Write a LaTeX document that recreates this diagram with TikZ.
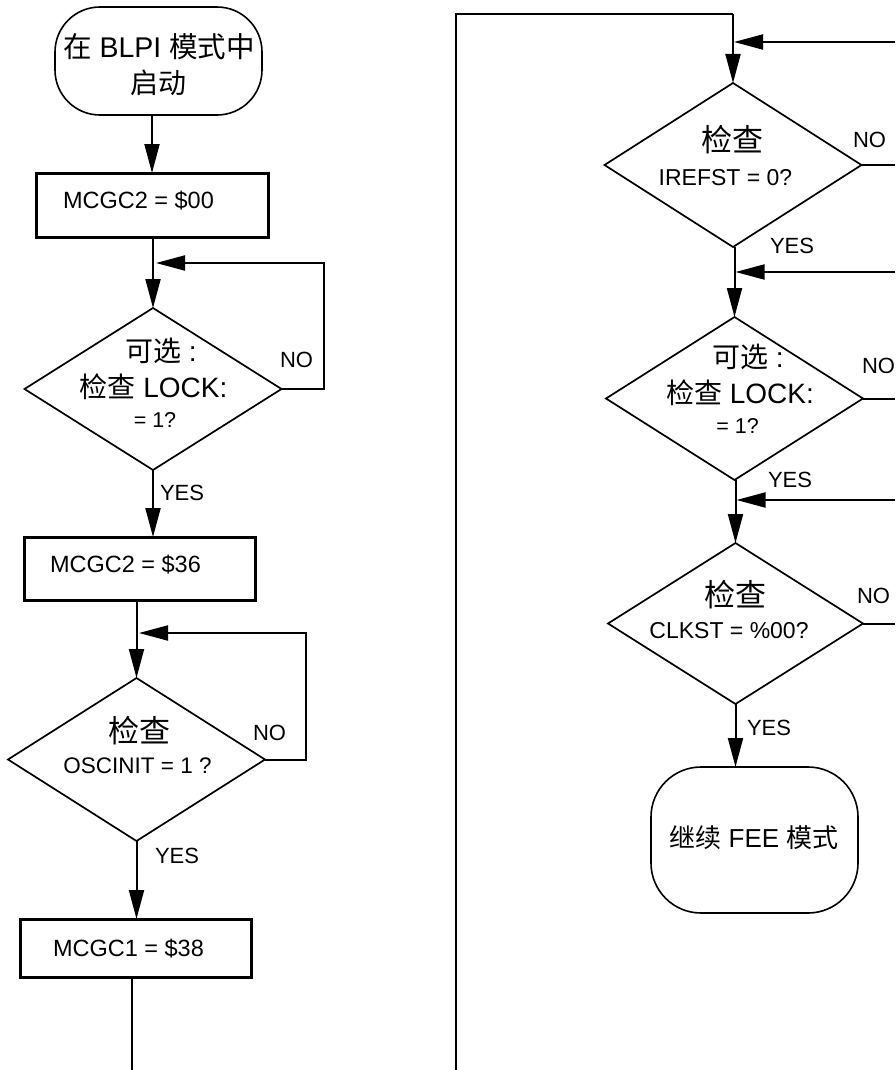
\documentclass[tikz,border=0pt]{standalone}
\usepackage{fontspec}
\setmainfont{Liberation Sans}
\newfontfamily\cjk{Noto Sans CJK SC}
\usetikzlibrary{shapes.geometric,arrows.meta}
\tikzset{
  flow/.style={line width=2pt,-{Triangle[length=29pt,width=15pt]}},
  plain/.style={line width=2pt},
  procbox/.style={draw,line width=3pt,rectangle,inner sep=0pt,outer sep=0pt},
  decbox/.style={draw,line width=1.7pt,diamond,inner sep=0pt,outer sep=0pt},
  termbox/.style={draw,line width=1.6pt,rectangle,inner sep=0pt,outer sep=0pt},
  txt/.style={inner sep=0pt,outer sep=0pt,anchor=base},
  lbl/.style={inner sep=0pt,outer sep=0pt,anchor=base west,font=\fontsize{22}{26}\selectfont},
}
\begin{document}
\begin{tikzpicture}[x=1pt,y=-1pt]
\useasboundingbox (0,0) rectangle (895,1070);
% ---------- left column ----------
\node[termbox,rounded corners=45pt,minimum width=207pt,minimum height=108pt] (s) at (158.5,61) {};
\node[txt,font=\fontsize{28.5}{30}\selectfont] (s1) at (159,58) {{\cjk 在} BLPI {\cjk 模式中}};
\node[txt,font=\fontsize{28}{30}\selectfont\cjk] (s2) at (158,94) {启动};

\node[procbox,minimum width=232pt,minimum height=64pt] (b1) at (152,205) {};
\node[txt,anchor=base west,font=\fontsize{23.5}{28}\selectfont] (b1t) at (63,208) {MCGC2 = \$00};

\node[decbox,minimum width=257pt,minimum height=162pt] (d1) at (153,389) {};
\node[txt,anchor=base west,font=\fontsize{28}{30}\selectfont] (d1a) at (125,361) {{\cjk 可选} :};
\node[txt,font=\fontsize{28}{30}\selectfont] (d1b) at (153.5,397) {{\cjk 检查} LOCK:};
\node[txt,font=\fontsize{21.5}{26}\selectfont] (d1c) at (155,427) {= 1?};
\node[lbl] (d1no) at (280,367) {NO};
\node[lbl] (d1yes) at (160,500) {YES};

\node[procbox,minimum width=231pt,minimum height=63pt] (b2) at (139.5,568.5) {};
\node[txt,anchor=base west,font=\fontsize{23.5}{28}\selectfont] (b2t) at (50,572) {MCGC2 = \$36};

\node[decbox,minimum width=257pt,minimum height=163pt] (d2) at (136.5,759.5) {};
\node[txt,font=\fontsize{31}{34}\selectfont\cjk] (d2a) at (139,742) {检查};
\node[txt,font=\fontsize{22.5}{26}\selectfont] (d2b) at (137.5,773) {OSCINIT = 1 ?};
\node[lbl] (d2no) at (253,740) {NO};
\node[lbl] (d2yes) at (155,863) {YES};

\node[procbox,minimum width=231pt,minimum height=58pt] (b3) at (135.5,948) {};
\node[txt,anchor=base west,font=\fontsize{23.5}{28}\selectfont] (b3t) at (53,956) {MCGC1 = \$38};

\coordinate (botL) at (132,1070);
% left connectors
\draw[flow] (s.south -| b1.north) -- (b1.north);
\draw[flow] (d1.north |- b1.south) -- (d1.north);
\coordinate (l1) at (324,263);
\draw[flow] (d1.east) -- (d1.east -| l1) -- (l1) -- (156,263);
\draw[flow] (d1.south) -- (d1.south |- b2.north);
\coordinate (l2) at (306,633);
\draw[flow] (d2.north |- b2.south) -- (d2.north);
\draw[flow] (d2.east) -- (d2.east -| l2) -- (l2) -- (139,633);
\draw[flow] (d2.south) -- (d2.south |- b3.north);
\draw[plain] (b3.south -| botL) -- (botL);

% ---------- right column ----------
\node[decbox,minimum width=257pt,minimum height=164pt] (d3) at (733,165) {};
\node[txt,font=\fontsize{31}{34}\selectfont\cjk] (d3a) at (732,151) {检查};
\node[txt,font=\fontsize{23}{26}\selectfont] (d3b) at (725.5,185) {IREFST = 0?};
\node[lbl] (d3no) at (853,147) {NO};
\node[lbl] (d3yes) at (770,253) {YES};

\node[decbox,minimum width=257pt,minimum height=163pt] (d4) at (734.5,398.5) {};
\node[txt,anchor=base west,font=\fontsize{28}{30}\selectfont] (d4a) at (712,367) {{\cjk 可选} :};
\node[txt,font=\fontsize{28}{30}\selectfont] (d4b) at (740,403) {{\cjk 检查} LOCK:};
\node[txt,font=\fontsize{21.5}{26}\selectfont] (d4c) at (737.5,433) {= 1?};
\node[lbl] (d4no) at (862,373) {NO};
\node[lbl] (d4yes) at (768,487) {YES};

\node[decbox,minimum width=255pt,minimum height=161pt] (d5) at (735.5,623.5) {};
\node[txt,font=\fontsize{31}{34}\selectfont\cjk] (d5a) at (735,606) {检查};
\node[txt,font=\fontsize{23}{26}\selectfont] (d5b) at (729,638) {CLKST = \%00?};
\node[lbl] (d5no) at (857,603) {NO};
\node[lbl] (d5yes) at (747,735) {YES};

\node[termbox,rounded corners=50pt,minimum width=207pt,minimum height=146pt] (e) at (754.5,840) {};
\node[txt,font=\fontsize{26}{30}\selectfont] (et) at (754,847) {{\cjk 继续} FEE {\cjk 模式}};

% right connectors
\coordinate (botR) at (456,1070);
\coordinate (topL) at (456,14);
\coordinate (topR) at (733,14);
\draw[plain] (botR) -- (topL) -- (topR);
\draw[flow] (topR) -- (d3.north);
\coordinate (in1) at (895,42);
\draw[flow] (in1) -- (734,42);
\coordinate (o3) at (895,165);
\draw[plain] (d3.east) -- (o3);
\draw[flow] (d4.north |- d3.south) -- (d4.north);
\coordinate (in2) at (895,272);
\draw[flow] (in2) -- (735.5,272);
\coordinate (o4) at (895,398.5);
\draw[plain] (d4.east) -- (o4);
\draw[flow] (d5.north |- d4.south) -- (d5.north);
\coordinate (in3) at (895,500);
\draw[flow] (in3) -- (736.5,500);
\coordinate (o5) at (895,623.5);
\draw[plain] (d5.east) -- (o5);
\draw[flow] (d5.south) -- (e.north -| d5.south);
\end{tikzpicture}
\end{document}
